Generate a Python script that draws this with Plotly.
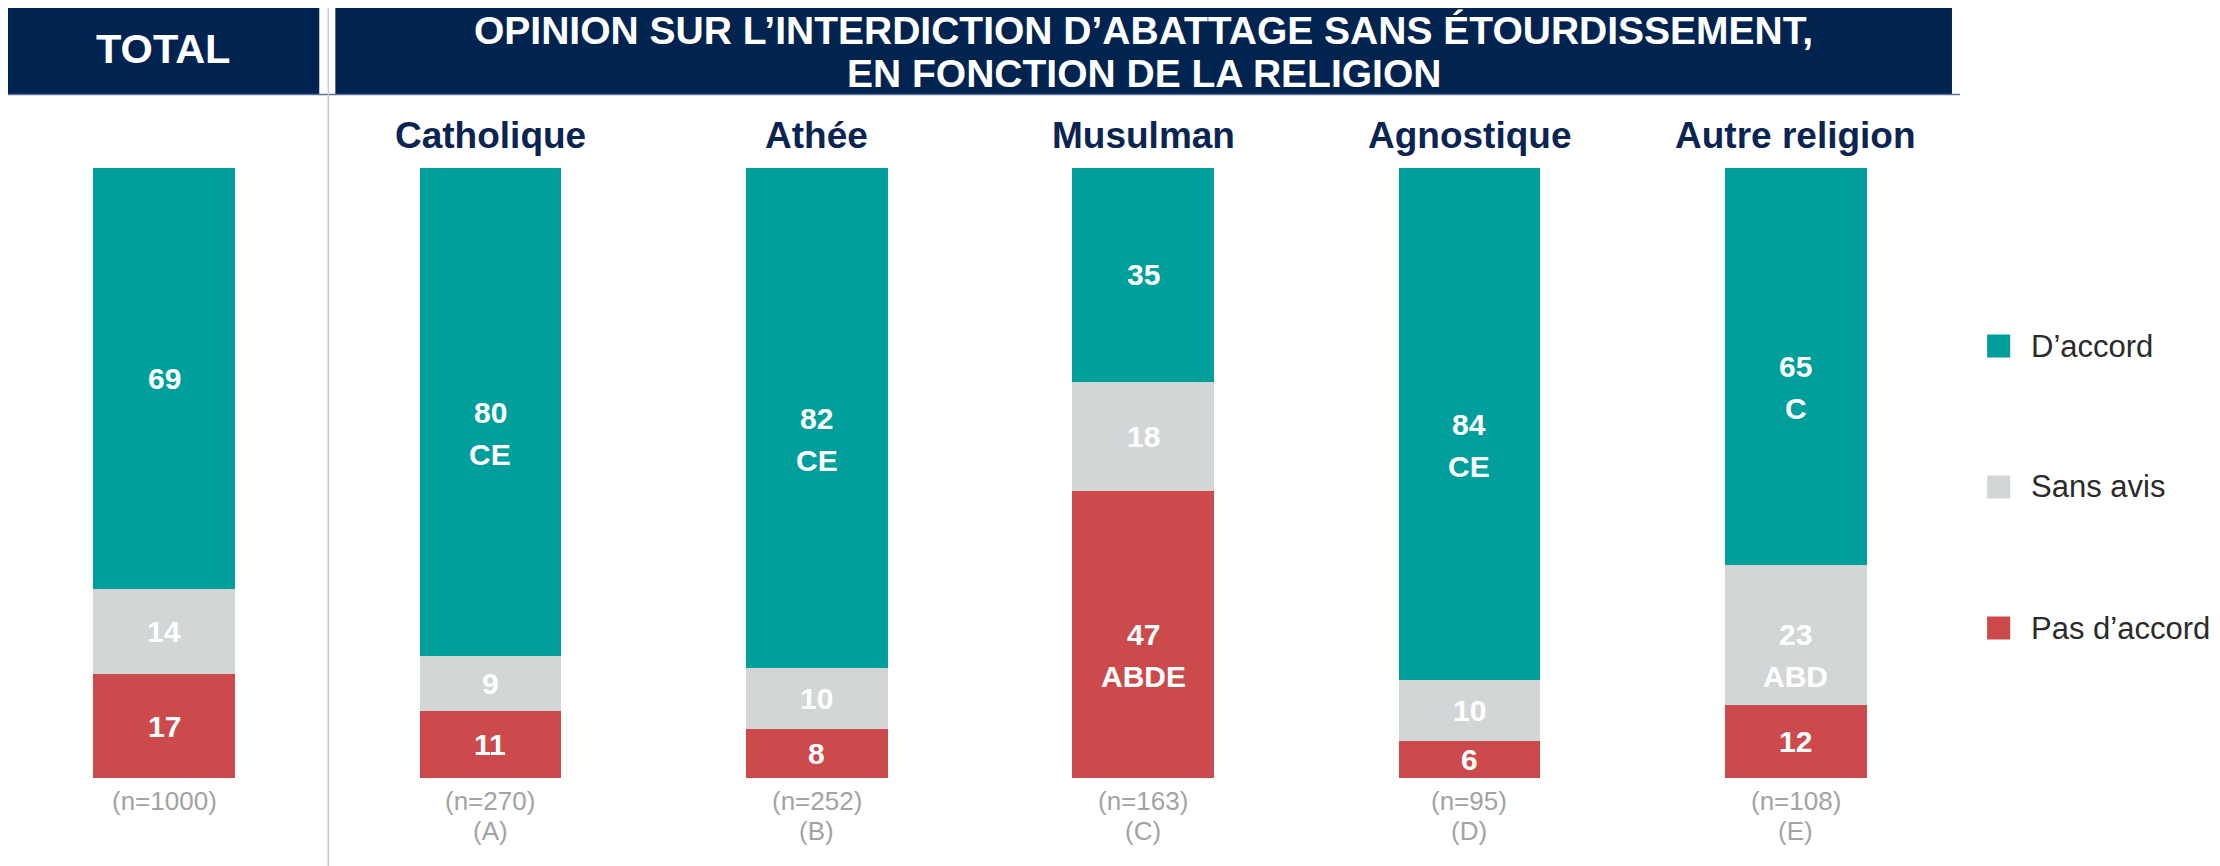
import plotly.graph_objects as go

# ---------------- data ----------------
categories = ["TOTAL", "Catholique", "Athée", "Musulman", "Agnostique", "Autre religion"]
header_names = ["", "Catholique", "Athée", "Musulman", "Agnostique", "Autre religion"]
sample_sizes = ["(n=1000)", "(n=270)", "(n=252)", "(n=163)", "(n=95)", "(n=108)"]
group_codes = ["", "(A)", "(B)", "(C)", "(D)", "(E)"]

pas_daccord = [17, 11, 8, 47, 6, 12]
sans_avis = [14, 9, 10, 18, 10, 23]
daccord = [69, 80, 82, 35, 84, 65]

sig_pas = ["", "", "", "ABDE", "", ""]
sig_sans = ["", "", "", "", "", "ABD"]
sig_daccord = ["", "CE", "CE", "", "CE", "C"]

series_names = ["D’accord", "Sans avis", "Pas d’accord"]
title_lines = ["OPINION SUR L’INTERDICTION D’ABATTAGE SANS ÉTOURDISSEMENT,",
               "EN FONCTION DE LA RELIGION"]
total_label = "TOTAL"

# ---------------- layout helpers (page pixel coords) ----------------
OFF = 8                    # default page body margin
W, H = 2220 - OFF, 866 - OFF
SLOT, C0 = 325.0, 163.5    # category spacing and first bar centre (page px)
PL, PR = OFF, 1951         # plot area page x-extent
PT, PB = 168, 778          # plot area page y-extent
TEAL = "#009F9B"
GREY = "#D3D6D7"
RED = "#CC4A4B"
NAVY = "#00234F"
NAVY_TXT = "#0B2452"
FONT = "Liberation Sans, Arial, sans-serif"


def xp(px):
    return (px - PL) / (PR - PL)


def yp(py):
    return (PB - py) / (PB - PT)


fig = go.Figure()
for name, vals, col in [(series_names[2], pas_daccord, RED),
                        (series_names[1], sans_avis, GREY),
                        (series_names[0], daccord, TEAL)]:
    fig.add_trace(go.Bar(x=categories, y=vals, name=name, marker_color=col,
                         marker_line_width=0, width=0.434, showlegend=False,
                         hoverinfo="x+y+name"))

annotations = []
shapes = []

# value labels
for i, c in enumerate(categories):
    base = 0
    for vals, sig in [(pas_daccord, sig_pas), (sans_avis, sig_sans), (daccord, sig_daccord)]:
        v = vals[i]
        mid = base + v / 2
        annotations.append(dict(x=c, y=mid, xref="x", yref="y", text=f"<b>{v}</b>",
                                showarrow=False, font=dict(family=FONT, size=30, color="white"),
                                xanchor="center", yanchor="middle"))
        if sig[i]:
            annotations.append(dict(x=c, y=mid, xref="x", yref="y", text=f"<b>{sig[i]}</b>",
                                    showarrow=False, yshift=-42,
                                    font=dict(family=FONT, size=30, color="white"),
                                    xanchor="center", yanchor="middle"))
        base += v

    if header_names[i]:
        annotations.append(dict(x=c, y=yp(135), xref="x", yref="paper",
                                text=f"<b>{header_names[i]}</b>", showarrow=False,
                                font=dict(family=FONT, size=37, color=NAVY_TXT),
                                xanchor="center", yanchor="middle"))
    annotations.append(dict(x=c, y=yp(801), xref="x", yref="paper", text=sample_sizes[i],
                            showarrow=False, font=dict(family=FONT, size=26, color="#A3A3A3"),
                            xanchor="center", yanchor="middle"))
    if group_codes[i]:
        annotations.append(dict(x=c, y=yp(831), xref="x", yref="paper", text=group_codes[i],
                                showarrow=False, font=dict(family=FONT, size=26, color="#A3A3A3"),
                                xanchor="center", yanchor="middle"))

# header boxes
shapes.append(dict(type="rect", xref="paper", yref="paper", x0=xp(7), x1=xp(318),
                   y0=yp(5), y1=yp(94), fillcolor=NAVY, line_width=0, layer="below"))
shapes.append(dict(type="rect", xref="paper", yref="paper", x0=xp(334), x1=xp(1944),
                   y0=yp(5), y1=yp(94), fillcolor=NAVY, line_width=0, layer="below"))
shapes.append(dict(type="line", xref="paper", yref="paper", x0=xp(0), x1=xp(1952),
                   y0=yp(94.5), y1=yp(94.5), line=dict(color="#5B6F9B", width=1.5)))
shapes.append(dict(type="line", xref="paper", yref="paper", x0=xp(327), x1=xp(327),
                   y0=yp(5), y1=yp(866), line=dict(color="#C9C9C9", width=1.5)))

annotations.append(dict(x=xp(162.5), y=yp(49), xref="paper", yref="paper",
                        text=f"<b>{total_label}</b>", showarrow=False,
                        font=dict(family=FONT, size=41.5, color="white"),
                        xanchor="center", yanchor="middle"))
annotations.append(dict(x=xp(1139), y=yp(OFF), xref="paper", yref="paper",
                        text=f"<b>{title_lines[0]}</b>", showarrow=False,
                        font=dict(family=FONT, size=39, color="white"),
                        xanchor="center", yanchor="top", borderpad=0))
annotations.append(dict(x=xp(1139), y=yp(74), xref="paper", yref="paper",
                        text=f"<b>{title_lines[1]}</b>", showarrow=False,
                        font=dict(family=FONT, size=39, color="white"),
                        xanchor="center", yanchor="middle", borderpad=0))

# legend (manual, large squares)
for name, col, cy in [(series_names[0], TEAL, 346), (series_names[1], GREY, 487),
                      (series_names[2], RED, 628)]:
    shapes.append(dict(type="rect", xref="paper", yref="paper", x0=xp(1979), x1=xp(2002),
                       y0=yp(cy - 11.5), y1=yp(cy + 11.5), fillcolor=col, line_width=0))
    annotations.append(dict(x=xp(2021), y=yp(cy), xref="paper", yref="paper", text=name,
                            showarrow=False, font=dict(family=FONT, size=31, color="#2B2B2B"),
                            xanchor="left", yanchor="middle"))

fig.update_layout(
    width=W, height=H,
    margin=dict(l=PL - OFF, r=(2220 - PR) - OFF, t=PT - OFF, b=866 - PB, pad=0),
    barmode="stack",
    plot_bgcolor="white", paper_bgcolor="white",
    xaxis=dict(type="category", range=[(PL - C0) / SLOT, (PR - C0) / SLOT],
               showticklabels=False, showgrid=False, zeroline=False, showline=False, ticks=""),
    yaxis=dict(range=[0, 100], showticklabels=False, showgrid=False, zeroline=False,
               showline=False, ticks=""),
    annotations=annotations,
    shapes=shapes,
    showlegend=False,
)

fig.write_html("out.html")
